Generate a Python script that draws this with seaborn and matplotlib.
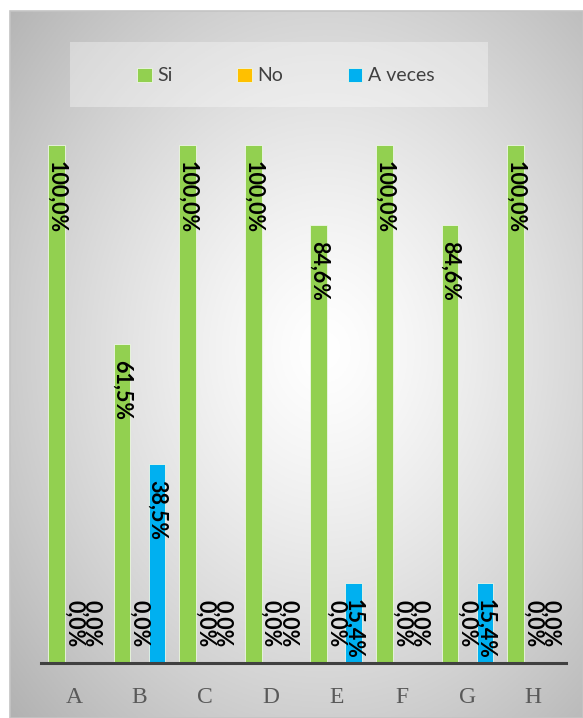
import numpy as np
import pandas as pd
import matplotlib
matplotlib.use("Agg")
import matplotlib.pyplot as plt
import seaborn as sns
from matplotlib.patches import Rectangle

categories = ["A", "B", "C", "D", "E", "F", "G", "H"]
series_names = ["Si", "No", "A veces"]
si_values = [100.0, 61.5, 100.0, 100.0, 84.6, 100.0, 84.6, 100.0]
no_values = [0.0, 0.0, 0.0, 0.0, 0.0, 0.0, 0.0, 0.0]
aveces_values = [0.0, 38.5, 0.0, 0.0, 15.4, 0.0, 15.4, 0.0]
colors = ["#92D050", "#FFC000", "#00B0F0"]

rows = []
for name, vals in zip(series_names, [si_values, no_values, aveces_values]):
    for c, v in zip(categories, vals):
        rows.append({"cat": c, "serie": name, "val": v})
df = pd.DataFrame(rows)

sns.set_theme(style="white")
W, H = 583, 718
fig = plt.figure(figsize=(W / 100, H / 100), dpi=100)
fig.patch.set_facecolor("white")

# gradient background panel
bx0, by1 = 10, 11
bg = fig.add_axes([bx0 / W, 0, 1 - bx0 / W, 1 - by1 / H])
ny, nx = 300, 300
yy, xx = np.mgrid[0:1:ny * 1j, 0:1:nx * 1j]
cx, cy = 0.55, 0.52
r = np.sqrt(((xx - cx) / 0.75) ** 2 + ((yy - cy) / 0.75) ** 2)
val = 1.0 - 0.30 * np.clip(r, 0, 1) ** 1.3
img = np.dstack([val, val, val])
bg.imshow(img, extent=[0, 1, 0, 1], aspect="auto", origin="lower")
bg.set_axis_off()
fig.add_artist(Rectangle((bx0 / W, 0), 1 - bx0 / W, 1 - by1 / H, transform=fig.transFigure,
                         fill=False, edgecolor="#c4c4c4", linewidth=1.2))

# legend box
lx0, lx1, ly0, ly1 = 70, 488, 42, 107
fig.add_artist(Rectangle((lx0 / W, 1 - ly1 / H), (lx1 - lx0) / W, (ly1 - ly0) / H,
                         transform=fig.transFigure, facecolor="#ffffff", alpha=0.35,
                         edgecolor="none"))

ax = fig.add_axes([41 / W, (H - 663) / H, (566 - 41) / W, (663 - 145) / H])
ax.patch.set_alpha(0)
sns.barplot(data=df, x="cat", y="val", hue="serie", palette=colors, ax=ax, saturation=1,
            width=0.8, gap=0.04, edgecolor="#eef7e6", linewidth=0.6, legend=True)
ax.set_ylim(0, 100)
ax.set_xlim(-0.5, 7.5)
ax.set_xlabel("")
ax.set_ylabel("")
ax.set_yticks([])
for s in ["top", "right", "left"]:
    ax.spines[s].set_visible(False)
ax.spines["bottom"].set_color("#404040")
ax.spines["bottom"].set_linewidth(2.2)
ax.tick_params(axis="x", length=0, pad=17)
for t in ax.get_xticklabels():
    t.set_fontfamily("Liberation Serif")
    t.set_fontsize(17)
    t.set_color("#595959")

px_per_unit = (663 - 145) / 100.0
for cont in ax.containers:
    for bar in cont:
        v = bar.get_height()
        xc = bar.get_x() + bar.get_width() / 2
        lab = f"{v:.1f}%".replace(".", ",")
        if v > 0:
            ax.text(xc, v - 16 / px_per_unit, lab, rotation=270, ha="center", va="top",
                    fontfamily="Lato", fontweight="bold", fontsize=15.5, color="black")
        else:
            ax.text(xc, 16 / px_per_unit, lab, rotation=270, ha="center", va="bottom",
                    fontfamily="Lato", fontweight="bold", fontsize=15.5, color="black")

handles, labels = ax.get_legend_handles_labels()
ax.legend_.remove()
fig.legend(handles, labels, loc="center", bbox_to_anchor=((lx0 + lx1) / 2 / W + 0.012, 1 - (ly0 + ly1) / 2 / H - 0.002),
           ncol=3, frameon=False, handlelength=0.75, handleheight=0.75, handletextpad=0.3,
           columnspacing=3.3, prop={"family": "Lato", "size": 14}, labelcolor="#404040")

fig.savefig("out.png", dpi=100)
